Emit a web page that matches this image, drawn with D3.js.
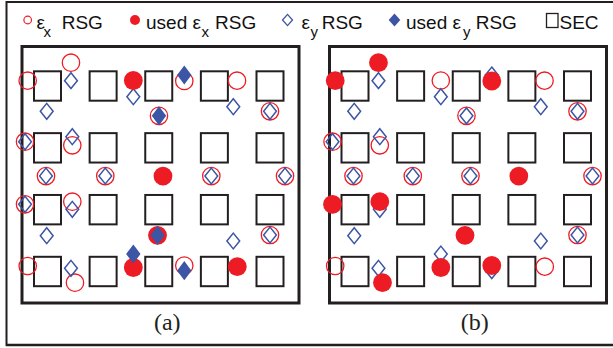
<!DOCTYPE html>
<html>
<head>
<meta charset="utf-8">
<script src="https://cdn.jsdelivr.net/npm/d3@7"></script>
<style>
  body { margin: 0; background: #fff; }
  svg { display: block; }
</style>
</head>
<body>
<svg id="chart" width="613" height="348"></svg>
<script>
// ---- Layout data (grid units: SEC squares sit on integer columns/rows) ----
const secCols = [1, 2, 3, 4, 5];
const secRows = [1, 2, 3, 4];

// epsilon-x rosette strain gauges (circles)
const exX = [1.422, 0.644, 2.543, 3.459, 3.004, 4.407, 5.000,
             0.596, 1.446, 0.973, 2.039, 3.076, 3.945, 5.270,
             0.596, 1.446, 2.978, 5.000,
             0.644, 1.494, 2.543, 3.459, 4.412];
const exY = [0.623, 0.914, 0.911, 0.919, 1.482, 0.914, 1.409,
             1.901, 1.959, 2.456, 2.456, 2.456, 2.456, 2.456,
             2.913, 2.871, 3.415, 3.410,
             3.911, 4.181, 3.935, 3.903, 3.922];

// epsilon-y rosette strain gauges (diamonds)
const eyX = [1.422, 0.986, 2.543, 3.459, 3.004, 4.340, 5.000,
             0.596, 1.446, 0.973, 2.039, 3.076, 3.945, 5.270,
             0.596, 1.446, 0.986, 2.978, 4.340, 5.000,
             1.422, 2.543, 3.459];
const eyY = [0.914, 1.409, 1.173, 0.822, 1.482, 1.335, 1.409,
             1.901, 1.820, 2.456, 2.456, 2.456, 2.456, 2.456,
             2.913, 2.994, 3.421, 3.415, 3.507, 3.410,
             3.948, 3.717, 3.987];

// Sensors selected in each configuration (indices into the arrays above)
const panelLabels = ["(a)", "(b)"];
const usedEx = [[2, 11, 16, 20, 22], [0, 1, 3, 12, 14, 15, 16, 19, 20, 21]];
const usedEy = [[3, 4, 17, 21, 22], []];

// Legend entries
const legendMain = ["\u03b5", "used \u03b5", "\u03b5", "used \u03b5", ""];
const legendSub  = ["x", "x", "y", "y", ""];
const legendTail = ["RSG", "RSG", "RSG", "RSG", "SEC"];
const legendKind = ["exOpen", "exUsed", "eyOpen", "eyUsed", "sec"];

// ---- Styles ----
const RED = "#ed1c24", BLUE = "#3c55a5", INK = "#231f20";

const svg = d3.select("#chart");

// outer border
svg.append("rect")
  .attr("x", 6.5).attr("y", 2).attr("width", 640).attr("height", 343)
  .attr("fill", "none").attr("stroke", INK).attr("stroke-width", 2);
svg.append("line")
  .attr("x1", 6).attr("x2", 613).attr("y1", 345).attr("y2", 345)
  .attr("stroke", INK).attr("stroke-width", 2.6);

const diamond = (w, h) => `M0,${-h}L${w},0L0,${h}L${-w},0Z`;

// scales shared by both panels (x relative to each panel frame's left edge)
const x = d3.scaleLinear().domain([1, 5]).range([25.5, 248]);
const y = d3.scaleLinear().domain([1, 4]).range([86, 271.5]);

const panelLeft = [22, 329.5];
const frameW = 277, frameTop = 46.5, frameBottom = 303;

panelLabels.forEach((lab, p) => {
  const g = svg.append("g").attr("transform", `translate(${panelLeft[p]},0)`);

  // panel frame
  g.append("rect")
    .attr("x", 0).attr("y", frameTop)
    .attr("width", frameW).attr("height", frameBottom - frameTop)
    .attr("fill", "none").attr("stroke", INK).attr("stroke-width", 3);

  // SEC squares
  const cells = d3.cross(secCols, secRows);
  g.selectAll("rect.sec").data(cells).join("rect")
    .attr("class", "sec")
    .attr("x", d => x(d[0]) - 13.5).attr("y", d => y(d[1]) - 14.7)
    .attr("width", 27).attr("height", 29.4)
    .attr("fill", "#fff").attr("stroke", INK).attr("stroke-width", 2);

  const ex = exX.map((v, i) => ({ x: v, y: exY[i], used: usedEx[p].includes(i) }));
  const ey = eyX.map((v, i) => ({ x: v, y: eyY[i], used: usedEy[p].includes(i) }));

  // unused epsilon-x gauges
  g.selectAll("circle.exo").data(ex.filter(d => !d.used)).join("circle")
    .attr("class", "exo")
    .attr("cx", d => x(d.x)).attr("cy", d => y(d.y)).attr("r", 8.7)
    .attr("fill", "none").attr("stroke", RED).attr("stroke-width", 1.3);

  // unused epsilon-y gauges
  g.selectAll("path.eyo").data(ey.filter(d => !d.used)).join("path")
    .attr("class", "eyo")
    .attr("transform", d => `translate(${x(d.x)},${y(d.y)})`)
    .attr("d", diamond(6.4, 7.9))
    .attr("fill", "none").attr("stroke", BLUE).attr("stroke-width", 1.5);

  // used epsilon-x gauges
  g.selectAll("circle.exu").data(ex.filter(d => d.used)).join("circle")
    .attr("class", "exu")
    .attr("cx", d => x(d.x)).attr("cy", d => y(d.y)).attr("r", 9.4)
    .attr("fill", RED);

  // used epsilon-y gauges
  g.selectAll("path.eyu").data(ey.filter(d => d.used)).join("path")
    .attr("class", "eyu")
    .attr("transform", d => `translate(${x(d.x)},${y(d.y)})`)
    .attr("d", diamond(7.2, 9.6))
    .attr("fill", BLUE);

  // panel caption
  g.append("text")
    .attr("x", x(3) + 8.5).attr("y", 329.5)
    .attr("text-anchor", "middle")
    .attr("font-family", "'Liberation Serif', 'Times New Roman', serif")
    .attr("font-size", 24).attr("fill", INK)
    .text(lab);
});

// ---- Legend ----
const legSymX  = [27.7, 135, 287.5, 394.5, 552];
const legTextX = [36.5, 146, 301.5, 406, 559.5];
const legSubX  = [43.5, 201.5, 310.5, 463, 0];
const legTailX = [61.7, 215, 321.7, 475.7, 559.5];
const legY = 20, legBase = 29.3;

const leg = svg.append("g").attr("font-family", "'Liberation Sans', Arial, Helvetica, sans-serif")
  .attr("fill", "#111");

legendKind.forEach((k, i) => {
  const sx = legSymX[i];
  if (k === "exOpen") {
    leg.append("circle").attr("cx", sx).attr("cy", legY).attr("r", 3.8)
      .attr("fill", "none").attr("stroke", RED).attr("stroke-width", 1.2);
  } else if (k === "exUsed") {
    leg.append("circle").attr("cx", sx).attr("cy", legY).attr("r", 5).attr("fill", RED);
  } else if (k === "eyOpen") {
    leg.append("path").attr("transform", `translate(${sx},${legY})`)
      .attr("d", diamond(5, 5.6)).attr("fill", "none").attr("stroke", BLUE).attr("stroke-width", 1.3);
  } else if (k === "eyUsed") {
    leg.append("path").attr("transform", `translate(${sx},${legY})`)
      .attr("d", diamond(5.8, 6.4)).attr("fill", BLUE);
  } else {
    leg.append("rect").attr("x", 546.5).attr("y", 13.5).attr("width", 11.5).attr("height", 14)
      .attr("fill", "#fff").attr("stroke", INK).attr("stroke-width", 1.3);
  }
  if (legendMain[i]) {
    leg.append("text").attr("x", legTextX[i]).attr("y", legBase)
      .attr("font-size", 19).text(legendMain[i]);
  }
  if (legendSub[i]) {
    leg.append("text").attr("x", legSubX[i]).attr("y", legBase + 8)
      .attr("font-size", 15).text(legendSub[i]);
  }
  leg.append("text").attr("x", legTailX[i]).attr("y", legBase)
    .attr("font-size", 19).text(legendTail[i]);
});
</script>
</body>
</html>
